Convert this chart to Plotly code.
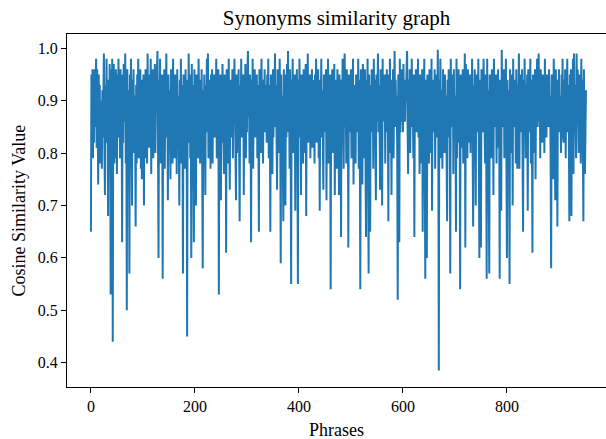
import plotly.graph_objects as go

# Cosine similarity value for each phrase
similarity = [
    0.65, 0.95, 0.80, 0.96, 0.79, 0.95, 0.82, 0.96, 0.85, 0.97,
    0.98, 0.81, 0.96, 0.86, 0.74, 0.95, 0.88, 0.93, 0.78, 0.90,
    0.87, 0.77, 0.92, 0.83, 0.95, 0.99, 0.80, 0.72, 0.93, 0.82,
    0.98, 0.86, 0.94, 0.68, 0.91, 0.79, 0.97, 0.88, 0.53, 0.96,
    0.84, 0.98, 0.44, 0.90, 0.97, 0.78, 0.93, 0.79, 0.96, 0.88,
    0.76, 0.95, 0.86, 0.98, 0.83, 0.92, 0.79, 0.96, 0.85, 0.93,
    0.63, 0.95, 0.82, 0.97, 0.86, 0.91, 0.99, 0.78, 0.94, 0.50,
    0.96, 0.83, 0.92, 0.87, 0.57, 0.95, 0.77, 0.98, 0.85, 0.70,
    0.94, 0.84, 0.96, 0.80, 0.91, 0.87, 0.66, 0.93, 0.78, 0.95,
    0.86, 0.98, 0.79, 0.92, 0.84, 0.96, 0.77, 0.90, 0.75, 0.94,
    0.86, 0.95, 0.70, 0.93, 0.79, 0.96, 0.87, 0.91, 0.78, 0.99,
    0.84, 0.95, 0.81, 0.93, 0.88, 0.98, 0.76, 0.92, 0.85, 0.96,
    0.79, 0.94, 0.86, 0.97, 0.80, 0.91, 0.88, 0.96, 0.995, 0.82,
    0.60, 0.94, 0.85, 0.98, 0.78, 0.92, 0.86, 0.95, 0.56, 0.93,
    0.84, 0.96, 0.77, 0.91, 0.87, 0.99, 0.83, 0.94, 0.71, 0.95,
    0.85, 0.92, 0.81, 0.75, 0.96, 0.86, 0.93, 0.78, 0.98, 0.84,
    0.90, 0.79, 0.95, 0.87, 0.92, 0.76, 0.96, 0.85, 0.91, 0.83,
    0.70, 0.94, 0.86, 0.98, 0.78, 0.93, 0.88, 0.57, 0.95, 0.84,
    0.92, 0.77, 0.96, 0.86, 0.94, 0.45, 0.93, 0.82, 0.99, 0.87,
    0.95, 0.79, 0.92, 0.60, 0.97, 0.85, 0.93, 0.77, 0.63, 0.96,
    0.84, 0.91, 0.70, 0.95, 0.87, 0.93, 0.79, 0.98, 0.86, 0.90,
    0.78, 0.94, 0.88, 0.96, 0.83, 0.58, 0.92, 0.85, 0.95, 0.80,
    0.72, 0.93, 0.86, 0.98, 0.84, 0.99, 0.79, 0.94, 0.87, 0.91,
    0.77, 0.95, 0.85, 0.96, 0.78, 0.92, 0.88, 0.95, 0.83, 0.90,
    0.86, 0.98, 0.79, 0.93, 0.84, 0.96, 0.53, 0.91, 0.87, 0.95,
    0.71, 0.94, 0.82, 0.97, 0.86, 0.90, 0.76, 0.95, 0.84, 0.92,
    0.61, 0.96, 0.85, 0.93, 0.78, 0.98, 0.87, 0.73, 0.94, 0.83,
    0.91, 0.86, 0.96, 0.79, 0.93, 0.88, 0.98, 0.84, 0.90, 0.71,
    0.95, 0.80, 0.92, 0.87, 0.96, 0.77, 0.67, 0.93, 0.85, 0.98,
    0.83, 0.91, 0.88, 0.95, 0.72, 0.94, 0.86, 0.97, 0.79, 0.92,
    0.84, 0.96, 0.995, 0.87, 0.93, 0.78, 0.95, 0.88, 0.63, 0.94,
    0.85, 0.98, 0.77, 0.92, 0.86, 0.96, 0.83, 0.90, 0.87, 0.95,
    0.79, 0.93, 0.85, 0.65, 0.96, 0.88, 0.91, 0.80, 0.98, 0.86,
    0.94, 0.78, 0.92, 0.87, 0.96, 0.84, 0.90, 0.93, 0.82, 0.95,
    0.86, 0.98, 0.79, 0.93, 0.88, 0.65, 0.95, 0.84, 0.91, 0.76,
    0.96, 0.83, 0.92, 0.87, 0.99, 0.85, 0.93, 0.78, 0.73, 0.96,
    0.86, 0.94, 0.80, 0.98, 0.88, 0.59, 0.95, 0.84, 0.91, 0.79,
    0.67, 0.96, 0.86, 0.93, 0.70, 0.95, 0.83, 0.97, 0.88, 0.995,
    0.84, 0.92, 0.77, 0.96, 0.87, 0.55, 0.94, 0.85, 0.98, 0.80,
    0.93, 0.88, 0.95, 0.69, 0.91, 0.84, 0.96, 0.86, 0.55, 0.94,
    0.83, 0.98, 0.87, 0.92, 0.72, 0.95, 0.85, 0.93, 0.78, 0.96,
    0.88, 0.91, 0.80, 0.97, 0.68, 0.94, 0.86, 0.99, 0.82, 0.93,
    0.87, 0.95, 0.79, 0.92, 0.88, 0.96, 0.81, 0.94, 0.86, 0.90,
    0.78, 0.95, 0.85, 0.98, 0.82, 0.93, 0.88, 0.96, 0.79, 0.91,
    0.69, 0.94, 0.87, 0.98, 0.83, 0.92, 0.86, 0.73, 0.95, 0.84,
    0.93, 0.88, 0.96, 0.71, 0.94, 0.85, 0.98, 0.78, 0.91, 0.87,
    0.95, 0.54, 0.93, 0.86, 0.96, 0.80, 0.92, 0.88, 0.97, 0.72,
    0.94, 0.85, 0.91, 0.77, 0.96, 0.87, 0.93, 0.72, 0.95, 0.86,
    0.90, 0.64, 0.94, 0.88, 0.98, 0.83, 0.77, 0.95, 0.99, 0.85,
    0.92, 0.78, 0.96, 0.87, 0.93, 0.62, 0.95, 0.84, 0.91, 0.88,
    0.96, 0.79, 0.94, 0.86, 0.98, 0.74, 0.93, 0.85, 0.90, 0.78,
    0.95, 0.87, 0.92, 0.84, 0.98, 0.77, 0.94, 0.86, 0.54, 0.96,
    0.83, 0.93, 0.74, 0.97, 0.88, 0.91, 0.79, 0.96, 0.82, 0.64,
    0.94, 0.87, 0.98, 0.81, 0.57, 0.95, 0.86, 0.65, 0.93, 0.84,
    0.96, 0.88, 0.92, 0.77, 0.98, 0.85, 0.94, 0.80, 0.71, 0.95,
    0.86, 0.91, 0.99, 0.84, 0.93, 0.87, 0.73, 0.96, 0.79, 0.94,
    0.70, 0.98, 0.86, 0.92, 0.88, 0.95, 0.78, 0.93, 0.85, 0.96,
    0.84, 0.90, 0.67, 0.95, 0.87, 0.98, 0.80, 0.93, 0.72, 0.94,
    0.86, 0.96, 0.79, 0.92, 0.995, 0.85, 0.94, 0.88, 0.91, 0.81,
    0.52, 0.95, 0.87, 0.63, 0.98, 0.84, 0.93, 0.86, 0.96, 0.89,
    0.84, 0.97, 0.88, 0.94, 0.86, 0.93, 0.90, 0.96, 0.995, 0.85,
    0.76, 0.94, 0.87, 0.96, 0.80, 0.92, 0.88, 0.98, 0.85, 0.91,
    0.79, 0.95, 0.64, 0.93, 0.87, 0.96, 0.84, 0.91, 0.88, 0.98,
    0.83, 0.94, 0.76, 0.95, 0.86, 0.92, 0.78, 0.96, 0.65, 0.93,
    0.87, 0.98, 0.84, 0.56, 0.94, 0.88, 0.60, 0.95, 0.85, 0.92,
    0.78, 0.96, 0.86, 0.93, 0.80, 0.98, 0.69, 0.94, 0.87, 0.91,
    0.84, 0.96, 0.77, 0.93, 0.88, 0.95, 0.83, 0.997, 0.86, 0.385,
    0.94, 0.87, 0.98, 0.79, 0.92, 0.85, 0.77, 0.96, 0.88, 0.93,
    0.80, 0.95, 0.86, 0.91, 0.84, 0.67, 0.94, 0.88, 0.96, 0.83,
    0.92, 0.57, 0.98, 0.85, 0.93, 0.87, 0.95, 0.76, 0.96, 0.84,
    0.91, 0.88, 0.65, 0.98, 0.79, 0.94, 0.86, 0.96, 0.82, 0.93,
    0.54, 0.95, 0.87, 0.92, 0.81, 0.96, 0.78, 0.94, 0.88, 0.99,
    0.62, 0.97, 0.86, 0.93, 0.79, 0.96, 0.82, 0.91, 0.88, 0.95,
    0.80, 0.94, 0.87, 0.98, 0.85, 0.66, 0.93, 0.86, 0.96, 0.78,
    0.70, 0.95, 0.88, 0.92, 0.84, 0.98, 0.79, 0.60, 0.94, 0.86,
    0.62, 0.96, 0.85, 0.93, 0.84, 0.98, 0.88, 0.91, 0.78, 0.95,
    0.87, 0.56, 0.98, 0.86, 0.92, 0.80, 0.57, 0.95, 0.88, 0.93,
    0.79, 0.96, 0.86, 0.94, 0.72, 0.98, 0.85, 0.91, 0.88, 0.95,
    0.78, 0.93, 0.87, 0.96, 0.81, 0.92, 0.56, 0.94, 0.86, 0.69,
    0.997, 0.85, 0.93, 0.88, 0.96, 0.79, 0.91, 0.87, 0.98, 0.84,
    0.60, 0.94, 0.86, 0.92, 0.88, 0.55, 0.96, 0.80, 0.93, 0.87,
    0.95, 0.70, 0.98, 0.85, 0.91, 0.88, 0.94, 0.78, 0.96, 0.86,
    0.77, 0.93, 0.87, 0.99, 0.77, 0.95, 0.84, 0.92, 0.88, 0.96,
    0.80, 0.65, 0.94, 0.86, 0.98, 0.85, 0.79, 0.93, 0.88, 0.95,
    0.69, 0.96, 0.84, 0.92, 0.87, 0.98, 0.78, 0.94, 0.86, 0.61,
    0.95, 0.88, 0.91, 0.80, 0.96, 0.75, 0.93, 0.87, 0.98, 0.85,
    0.92, 0.99, 0.86, 0.94, 0.79, 0.96, 0.88, 0.91, 0.82, 0.95,
    0.87, 0.93, 0.80, 0.98, 0.86, 0.92, 0.83, 0.95, 0.88, 0.94,
    0.85, 0.96, 0.87, 0.91, 0.79, 0.58, 0.95, 0.86, 0.93, 0.75,
    0.98, 0.88, 0.92, 0.71, 0.96, 0.85, 0.94, 0.66, 0.93, 0.87,
    0.96, 0.84, 0.91, 0.88, 0.80, 0.95, 0.86, 0.98, 0.83, 0.82,
    0.94, 0.87, 0.96, 0.79, 0.92, 0.88, 0.98, 0.84, 0.93, 0.86,
    0.67, 0.95, 0.88, 0.96, 0.68, 0.94, 0.86, 0.98, 0.76, 0.99,
    0.85, 0.93, 0.87, 0.79, 0.99, 0.86, 0.96, 0.84, 0.80, 0.95,
    0.88, 0.92, 0.78, 0.98, 0.86, 0.94, 0.85, 0.67, 0.96, 0.87,
    0.76, 0.84, 0.92,
]
phrase_index = list(range(len(similarity)))

x_ticks = [0, 200, 400, 600, 800]
y_ticks = [0.4, 0.5, 0.6, 0.7, 0.8, 0.9, 1.0]
y_tick_labels = ["0.4", "0.5", "0.6", "0.7", "0.8", "0.9", "1.0"]

SERIF = "Liberation Serif, Times New Roman, serif"

fig = go.Figure()
fig.add_trace(go.Scatter(
    x=phrase_index, y=similarity, mode="lines",
    line=dict(color="#1f77b4", width=2),
    showlegend=False,
))

fig.update_layout(
    width=606, height=439,
    paper_bgcolor="white", plot_bgcolor="white",
    margin=dict(l=67, r=0, t=34, b=52, autoexpand=False),
    font=dict(family=SERIF, color="black"),
    title=dict(
        text="Synonyms similarity graph",
        font=dict(family=SERIF, size=21, color="black"),
        x=0.5, xref="paper", xanchor="center",
        y=1 - 18 / 439, yref="container", yanchor="middle",
        automargin=False,
    ),
    xaxis=dict(
        range=[-46, 990.5], automargin=False,
        tickmode="array", tickvals=x_ticks,
        ticks="outside", ticklen=5, tickwidth=1, tickcolor="black",
        showline=True, linecolor="black", linewidth=1, mirror=True,
        showgrid=False, zeroline=False,
        tickfont=dict(family=SERIF, size=16, color="black"),
    ),
    yaxis=dict(
        range=[0.3536, 1.0273], automargin=False,
        tickmode="array", tickvals=y_ticks, ticktext=y_tick_labels,
        ticks="outside", ticklen=5, tickwidth=1, tickcolor="black",
        showline=True, linecolor="black", linewidth=1, mirror=False,
        showgrid=False, zeroline=False,
        tickfont=dict(family=SERIF, size=16, color="black"),
    ),
    annotations=[
        dict(text="Phrases", xref="paper", yref="paper",
             x=0.5, y=-(430 - 387) / 353, xanchor="center", yanchor="middle",
             showarrow=False, font=dict(family=SERIF, size=18, color="black")),
        dict(text="Cosine Similarity Value", xref="paper", yref="paper",
             x=(18 - 67) / 539, y=0.5, xanchor="center", yanchor="middle",
             textangle=-90, showarrow=False,
             font=dict(family=SERIF, size=18, color="black")),
    ],
)

fig.write_html("out.html", config={"displayModeBar": False},
               post_script="document.body.style.margin='0px';")
